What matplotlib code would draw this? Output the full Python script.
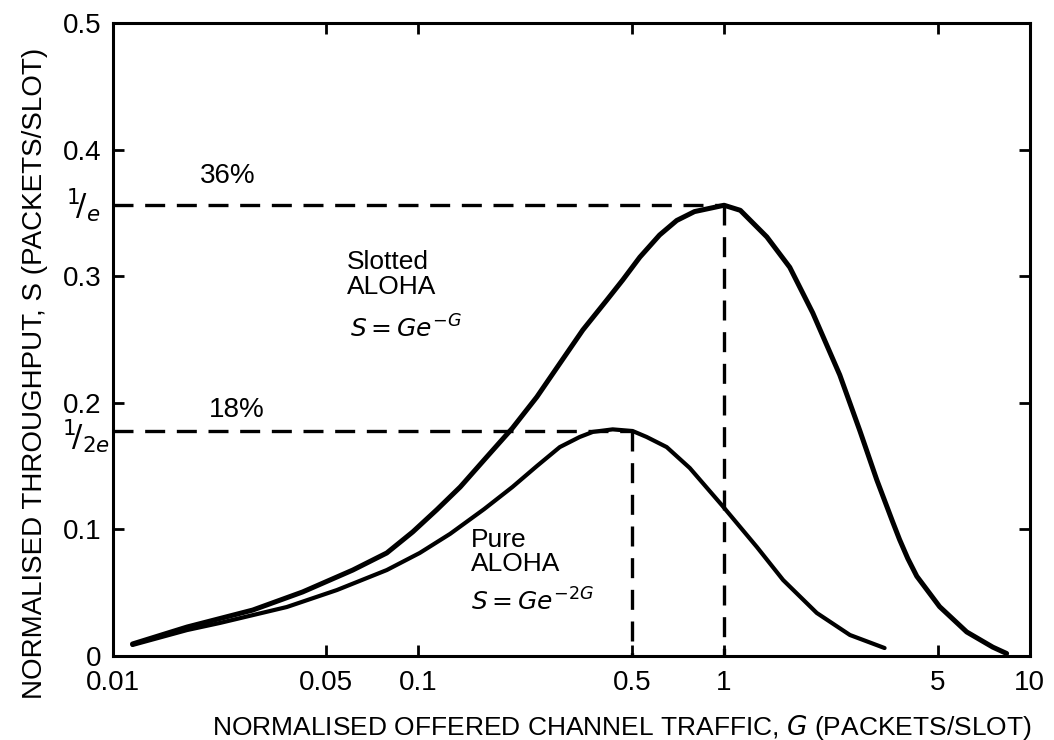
import matplotlib
matplotlib.use("Agg")
import matplotlib.pyplot as plt
from matplotlib.ticker import FixedLocator, FixedFormatter, NullLocator
from matplotlib.transforms import blended_transform_factory

# offered traffic G and throughput S
g_slotted = [0.0116, 0.0175, 0.0287, 0.0418, 0.0610, 0.0788, 0.0958, 0.1148,
             0.137, 0.167, 0.203, 0.244, 0.290, 0.345, 0.413, 0.466, 0.530,
             0.615, 0.700, 0.800, 1.0, 1.13, 1.38, 1.64, 1.95, 2.39, 2.78,
             3.16, 3.56, 3.75, 3.99, 4.27, 5.07, 6.22, 7.57, 8.40]
s_slotted = [0.0095, 0.0229, 0.0363, 0.0506, 0.0679, 0.0814, 0.098, 0.1155,
             0.1335, 0.157, 0.180, 0.2046, 0.231, 0.2575, 0.281, 0.297, 0.315,
             0.3325, 0.344, 0.351, 0.356, 0.352, 0.331, 0.307, 0.271, 0.222, 0.178,
             0.139, 0.106, 0.092, 0.077, 0.063, 0.039, 0.019, 0.007, 0.002]

g_pure = [0.0116, 0.0175, 0.0224, 0.0371, 0.0541, 0.0788, 0.101, 0.127, 0.164,
          0.203, 0.244, 0.290, 0.337, 0.372, 0.432, 0.502, 0.558, 0.649, 0.772,
          0.982, 1.28, 1.56, 2.01, 2.58, 3.35]
s_pure = [0.0087, 0.0205, 0.0261, 0.0387, 0.0521, 0.0679, 0.0814, 0.0965, 0.116,
          0.1335, 0.150, 0.165, 0.173, 0.177, 0.179, 0.1777, 0.173, 0.165, 0.1485,
          0.1193, 0.0861, 0.060, 0.034, 0.0166, 0.0063]

# maxima marked with dashed guides: (G, S)
slotted_peak = (1.0, 0.356)
pure_peak = (0.5, 0.1777)

x_ticks = [0.01, 0.05, 0.1, 0.5, 1, 5, 10]
x_ticklabels = ["0.01", "0.05", "0.1", "0.5", "1", "5", "10"]
y_ticks = [0, 0.1, 0.2, 0.3, 0.4, 0.5]
y_ticklabels = ["0", "0.1", "0.2", "0.3", "0.4", "0.5"]

INK = "black"
plt.rcParams.update({
    "font.family": ["Liberation Sans", "DejaVu Sans"],
    "mathtext.fontset": "dejavusans",
    "axes.linewidth": 2.2,
})

fig = plt.figure(figsize=(10.54, 7.40), dpi=100)
ax = fig.add_axes([0.107, 0.1135, 0.870, 0.8555])

ax.plot(g_slotted, s_slotted, color=INK, lw=3.6, solid_capstyle="round",
        solid_joinstyle="round")
ax.plot(g_pure, s_pure, color=INK, lw=3.0, solid_capstyle="round",
        solid_joinstyle="round")

# dashed guides to the maxima
dash = dict(color=INK, lw=2.4, ls=(0, (6, 3.5)))
for gp, sp in (slotted_peak, pure_peak):
    ax.plot([0.01, gp], [sp, sp], **dash)
    ax.plot([gp, gp], [sp, 0], **dash)

ax.set_xscale("log")
ax.set_xlim(0.01, 10)
ax.set_ylim(0, 0.5)
ax.xaxis.set_major_locator(FixedLocator(x_ticks))
ax.xaxis.set_major_formatter(FixedFormatter(x_ticklabels))
ax.xaxis.set_minor_locator(NullLocator())
ax.yaxis.set_major_locator(FixedLocator(y_ticks))
ax.yaxis.set_major_formatter(FixedFormatter(y_ticklabels))
ax.tick_params(which="both", direction="in", top=True, right=True,
               length=8, width=2, labelsize=20, colors=INK)
ax.tick_params(axis="x", pad=10)
ax.tick_params(axis="y", pad=8)

# 1/e and 1/2e beside the axis
trans = blended_transform_factory(ax.transAxes, ax.transData)
ax.text(-0.013, slotted_peak[1], r"$^{1}\!/_{e}$", transform=trans,
        ha="right", va="center", fontsize=22)
ax.text(-0.003, pure_peak[1] - 0.004, r"$^{1}\!/_{2e}$", transform=trans,
        ha="right", va="center", fontsize=22)

ax.text(0.0238, 0.379, "36%", ha="center", va="center", fontsize=20)
ax.text(0.0255, 0.194, "18%", ha="center", va="center", fontsize=20)

ax.text(0.0583, 0.321, "Slotted\nALOHA", ha="left", va="top", fontsize=19,
        linespacing=1.1)
ax.text(0.0596, 0.258, r"$S = Ge^{-G}$", ha="left", va="center", fontsize=18)
ax.text(0.149, 0.101, "Pure\nALOHA", ha="left", va="top", fontsize=19,
        linespacing=1.0)
ax.text(0.149, 0.043, r"$S = Ge^{-2G}$", ha="left", va="center", fontsize=18)

fig.text(35 / 1054, 1 - 373 / 740, "NORMALISED THROUGHPUT, S (PACKETS/SLOT)",
         rotation=90, ha="center", va="center", fontsize=20)
fig.text(622 / 1054, 1 - 727 / 740,
         "NORMALISED OFFERED CHANNEL TRAFFIC, $G$ (PACKETS/SLOT)",
         ha="center", va="center", fontsize=19)

fig.savefig("out.png", dpi=100)
